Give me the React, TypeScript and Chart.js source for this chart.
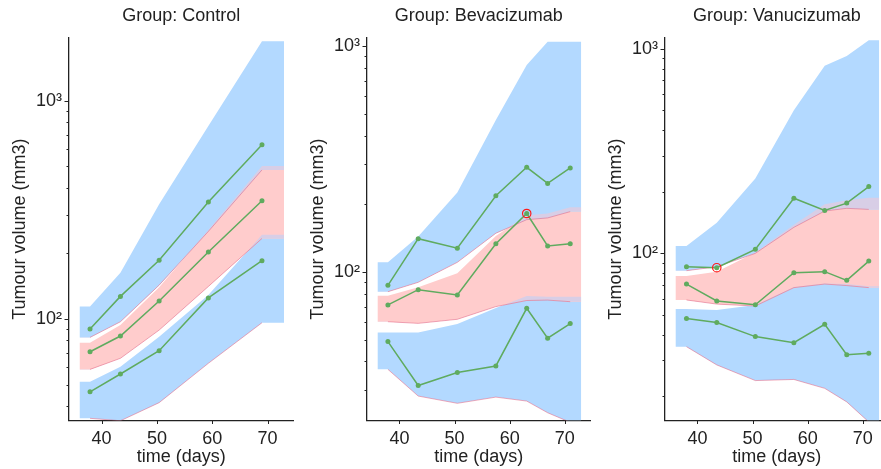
import React, { useEffect, useRef } from 'react';
import { Chart, registerables } from 'chart.js';

Chart.register(...registerables);

// ---------------- data ----------------
const groupNames = ['Control', 'Bevacizumab', 'Vanucizumab'];

const xTicks = [40, 50, 60, 70];
const xMin = 34.1;
const xMax = 74.7;
const bandStart = 36;
const bandEnd = 73;

const yTickLabels: Record<number, string> = { 100: '10²', 1000: '10³' };

// Control
const timeControl = [37.9, 43.4, 50.4, 59.3, 69.0];
const ctrlObsLow = [46.4, 56.0, 71.6, 125, 185];
const ctrlObsMed = [70.8, 83.6, 121, 203, 348];
const ctrlObsHigh = [90, 127, 186, 344, 628];
const ctrlHiTop = [114, 163, 336, 766, 1875];
const ctrlHiBot = [82.4, 97.2, 143, 252, 482];
const ctrlMedTop = [77.9, 93.9, 140, 256, 502];
const ctrlMedBot = [58.8, 66.1, 89.0, 141, 234];
const ctrlLoTop = [51.6, 60.5, 83.0, 129, 243];
const ctrlLoBot = [35.1, 34.2, 41.4, 62.7, 96.2];
const ctrlYTicks = [40, 50, 60, 70, 80, 90, 100, 200, 300, 400, 500, 600, 700, 800, 900, 1000];

// Bevacizumab
const timeBev = [37.9, 43.4, 50.5, 57.5, 63.1, 66.9, 71.0];
const bevObsLow = [49.0, 31.3, 35.7, 38.2, 68.8, 50.7, 58.9];
const bevObsMed = [71.2, 83.2, 78.8, 133, 181, 130, 133];
const bevObsHigh = [87.0, 140, 127, 217, 290, 246, 288];
const bevHiTop = [110, 143, 224, 470, 824, 1045, 1045];
const bevHiBot = [81.5, 89.7, 110, 148, 170, 173, 184.5];
const bevMedTop = [78.3, 85.3, 98.4, 144, 178, 181, 193];
const bevMedBot = [60, 59, 61.5, 70, 74.5, 74.8, 73.6];
const bevLoTop = [53.8, 53.7, 58.6, 69, 78, 77.5, 77.4];
const bevLoBot = [36.9, 28.1, 26.1, 27.8, 26.7, 23.7, 21.5];
const bevYTicks = [30, 40, 50, 60, 70, 80, 90, 100, 200, 300, 400, 500, 600, 700, 800, 900, 1000];

// Vanucizumab
const timeVan = [38.0, 43.5, 50.5, 57.5, 63.1, 67.1, 71.1];
const vanObsLow = [48.0, 45.9, 39.2, 36.6, 45.0, 32.0, 32.5];
const vanObsMed = [70.8, 58.5, 56.1, 80.5, 81.4, 73.8, 91.7];
const vanObsHigh = [86.1, 85.1, 104.6, 186, 162, 176, 212];
const vanHiTop = [108.6, 141, 232, 501, 826, 921, 1101];
const vanHiBot = [82.3, 86.0, 100, 134, 161, 166, 164];
const vanMedTop = [77.5, 81.3, 101, 138, 174, 182, 187];
const vanMedBot = [59.2, 56.5, 55.3, 68.0, 70.8, 69.6, 68.0];
const vanLoTop = [53.5, 52.9, 55.9, 68.5, 71.3, 70.8, 69.0];
const vanLoBot = [35.0, 28.5, 23.9, 24.2, 21.9, 18.8, 15.0];
const vanYTicks = [20, 30, 40, 50, 60, 70, 80, 90, 100, 200, 300, 400, 500, 600, 700, 800, 900, 1000];

// outliers: [observed line index (0 low, 1 median, 2 high), time index]
const ctrlOutliers: number[][] = [];
const bevOutliers: number[][] = [[1, 4]];
const vanOutliers: number[][] = [[2, 1]];

// ---------------- styling ----------------
const FONT = "'Liberation Sans', Arial, Helvetica, sans-serif";
const TXT = '#222222';
const GREEN = '#5fab5f';
const BLUE = 'rgb(179,217,255)';
const PINK = 'rgb(255,204,204)';
const LAVENDER = 'rgb(216,206,230)';
const EDGE = 'rgba(232,90,120,0.5)';
const NONE = 'rgba(0,0,0,0)';

interface Panel {
  name: string;
  times: number[];
  obs: number[][];
  bands: number[][];
  yMin: number;
  yMax: number;
  yTicks: number[];
  outliers: number[][];
}

const panels: Panel[] = [
  {
    name: groupNames[0], times: timeControl,
    obs: [ctrlObsLow, ctrlObsMed, ctrlObsHigh],
    bands: [ctrlHiTop, ctrlHiBot, ctrlMedTop, ctrlMedBot, ctrlLoTop, ctrlLoBot],
    yMin: 34.3, yMax: 1944, yTicks: ctrlYTicks, outliers: ctrlOutliers,
  },
  {
    name: groupNames[1], times: timeBev,
    obs: [bevObsLow, bevObsMed, bevObsHigh],
    bands: [bevHiTop, bevHiBot, bevMedTop, bevMedBot, bevLoTop, bevLoBot],
    yMin: 21.9, yMax: 1088, yTicks: bevYTicks, outliers: bevOutliers,
  },
  {
    name: groupNames[2], times: timeVan,
    obs: [vanObsLow, vanObsMed, vanObsHigh],
    bands: [vanHiTop, vanHiBot, vanMedTop, vanMedBot, vanLoTop, vanLoBot],
    yMin: 15.25, yMax: 1132, yTicks: vanYTicks, outliers: vanOutliers,
  },
];

const PANEL_W = 298;
const PANEL_H = 469;

const tickMarkPlugin = {
  id: 'tickMarks',
  afterDraw(chart: any) {
    const { ctx, chartArea, scales } = chart;
    const ys = scales.y;
    const xs = scales.x;
    ctx.save();
    ctx.strokeStyle = TXT;
    ctx.lineWidth = 1;
    ys.ticks.forEach((t: any) => {
      const py = Math.round(ys.getPixelForValue(t.value)) + 0.5;
      const len = yTickLabels[t.value] ? 4.5 : 2.5;
      ctx.beginPath();
      ctx.moveTo(chartArea.left - len, py);
      ctx.lineTo(chartArea.left, py);
      ctx.stroke();
    });
    xs.ticks.forEach((t: any) => {
      const px = Math.round(xs.getPixelForValue(t.value)) + 0.5;
      ctx.beginPath();
      ctx.moveTo(px, chartArea.bottom);
      ctx.lineTo(px, chartArea.bottom + 3.5);
      ctx.stroke();
    });
    ctx.restore();
  },
};

function extend(times: number[], vals: number[]) {
  const pts = times.map((t, i) => ({ x: t, y: vals[i] }));
  return [{ x: bandStart, y: vals[0] }, ...pts, { x: bandEnd, y: vals[vals.length - 1] }];
}

function fillPair(p: Panel, top: number[], bot: number[], fill: any, order: number) {
  return [
    {
      type: 'line', data: extend(p.times, top), fill, backgroundColor: NONE,
      borderWidth: 0, borderColor: NONE, pointRadius: 0, tension: 0, order,
    },
    {
      type: 'line', data: extend(p.times, bot), fill: false, backgroundColor: NONE,
      borderWidth: 0, borderColor: NONE, pointRadius: 0, tension: 0, order,
    },
  ];
}

function buildDatasets(p: Panel) {
  const [hiTop, hiBot, medTop, medBot, loTop, loBot] = p.bands;
  const ds: any[] = [];
  // solid bands
  ds.push(...fillPair(p, hiTop, hiBot, { target: '+1', above: BLUE, below: BLUE }, 6));
  ds.push(...fillPair(p, medTop, medBot, { target: '+1', above: PINK, below: PINK }, 6));
  ds.push(...fillPair(p, loTop, loBot, { target: '+1', above: BLUE, below: BLUE }, 6));
  // overlap strips where the bands overlap
  ds.push(...fillPair(p, medTop, hiBot, { target: '+1', above: LAVENDER, below: NONE }, 5));
  ds.push(...fillPair(p, loTop, medBot, { target: '+1', above: LAVENDER, below: NONE }, 5));
  // lower edges of each band
  [hiBot, medBot, loBot].forEach((vals) => {
    ds.push({
      type: 'line', data: p.times.map((t, i) => ({ x: t, y: vals[i] })), fill: false,
      borderColor: EDGE, borderWidth: 1, pointRadius: 0, tension: 0, order: 4,
    });
  });
  // observed percentiles
  p.obs.forEach((vals) => {
    ds.push({
      type: 'line', data: p.times.map((t, i) => ({ x: t, y: vals[i] })), fill: false,
      borderColor: GREEN, borderWidth: 1.5, pointRadius: 2.5, pointBackgroundColor: GREEN,
      pointBorderWidth: 0, tension: 0, order: 1,
    });
  });
  if (p.outliers.length) {
    ds.push({
      type: 'line', showLine: false,
      data: p.outliers.map(([li, ti]) => ({ x: p.times[ti], y: p.obs[li][ti] })),
      pointRadius: 4.2, pointBorderColor: '#ff1a1a', pointBackgroundColor: NONE,
      pointBorderWidth: 1.2, order: 0,
    });
  }
  return ds;
}

function PanelChart({ panel, left }: { panel: Panel; left: number }) {
  const ref = useRef<HTMLCanvasElement | null>(null);
  useEffect(() => {
    if (!ref.current) return;
    const font = { family: FONT, size: 18, weight: 'normal' as const };
    const chart = new Chart(ref.current, {
      type: 'line',
      data: { datasets: buildDatasets(panel) },
      plugins: [tickMarkPlugin],
      options: {
        animation: false,
        responsive: false,
        events: [],
        layout: { padding: { left: 0, right: 4.5, top: 0, bottom: 0 } },
        plugins: {
          legend: { display: false },
          tooltip: { enabled: false },
          title: {
            display: true, text: 'Group: ' + panel.name, fullSize: false, color: TXT,
            font, padding: { top: 5.5, bottom: 10.6 },
          },
          filler: { propagate: false },
        } as any,
        scales: {
          x: {
            type: 'linear', min: xMin, max: xMax,
            afterBuildTicks: (s: any) => { s.ticks = xTicks.map((v) => ({ value: v })); },
            afterFit: (s: any) => { s.height = PANEL_H - 420.5; },
            grid: { display: false, drawTicks: false },
            border: { display: true, color: TXT, width: 1.3 },
            ticks: { color: TXT, font, padding: 8, maxRotation: 0, autoSkip: false },
            title: { display: true, text: 'time (days)', color: TXT, font, padding: { top: 0, bottom: 1 } },
          },
          y: {
            type: 'logarithmic', min: panel.yMin, max: panel.yMax,
            afterBuildTicks: (s: any) => { s.ticks = panel.yTicks.map((v) => ({ value: v, major: false })); },
            afterFit: (s: any) => { s.width = 69; },
            grid: { display: false, drawTicks: false },
            border: { display: true, color: TXT, width: 1.3 },
            ticks: {
              color: TXT, font, padding: 7, autoSkip: false,
              callback: (v: any) => yTickLabels[Number(v)] ?? '',
            },
            title: { display: true, text: 'Tumour volume (mm3)', color: TXT, font, padding: { top: 9, bottom: 0 } },
          },
        } as any,
      },
    });
    return () => chart.destroy();
  }, [panel]);
  return (
    <canvas
      ref={ref}
      width={PANEL_W}
      height={PANEL_H}
      style={{ position: 'absolute', left, top: 0, width: PANEL_W, height: PANEL_H }}
    />
  );
}

export default function App() {
  return (
    <div
      style={{
        position: 'fixed', left: 0, top: 0, width: 881, height: 469,
        overflow: 'hidden', background: '#ffffff',
      }}
    >
      {panels.map((p, i) => (
        <PanelChart key={p.name} panel={p} left={Math.round(i * 298.2)} />
      ))}
    </div>
  );
}
